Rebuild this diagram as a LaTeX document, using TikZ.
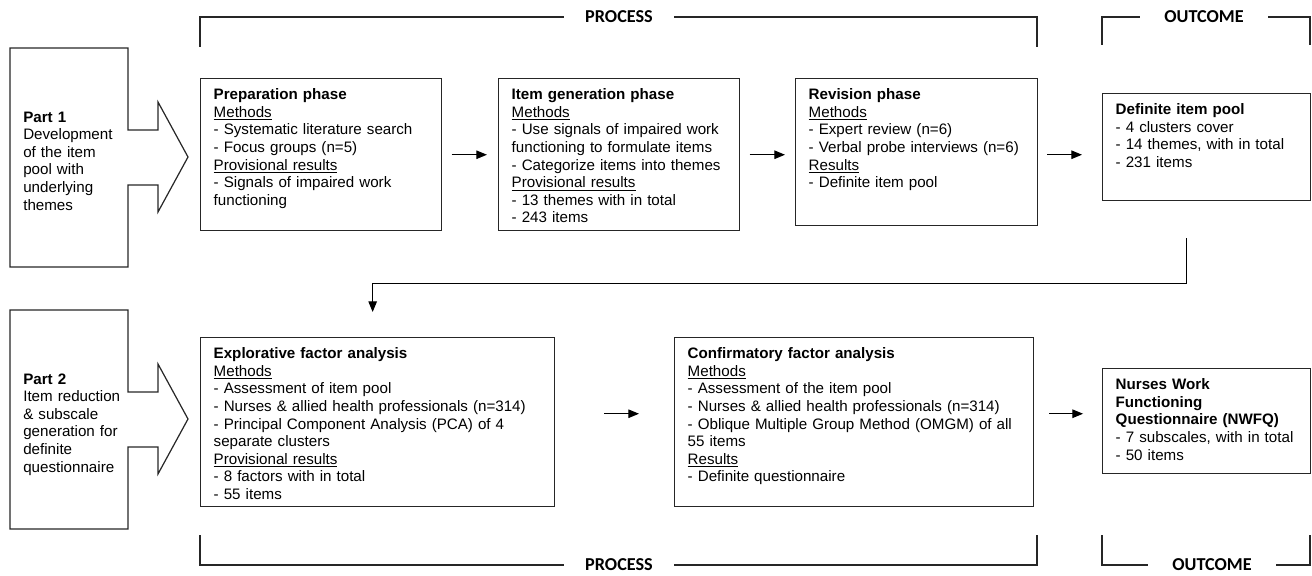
\documentclass[tikz,border=0pt]{standalone}
\usepackage{fontspec}
\setmainfont{Liberation Sans}
\newfontfamily\headfont{Carlito}
\usetikzlibrary{arrows.meta}

\tikzset{
	phasebox/.style={draw=black!85, line width=0.9pt, anchor=north west, align=left,
		inner xsep=8.6pt, inner ysep=0pt, text height=13.9pt},
	parttext/.style={anchor=north west, align=left, inner sep=0pt, text width=66pt, text height=48.8pt},
	partline/.style={draw=black!85, line width=0.8pt},
	conn/.style={-{Triangle[length=7pt,width=5.6pt]}, line width=0.7pt},
	bracketline/.style={line width=0.7pt, black!85},
	bracketlabel/.style={font=\headfont\bfseries\fontsize{12}{14}\selectfont, inner ysep=0pt},
}

\begin{document}
\begin{tikzpicture}[x=0.66pt, y=-0.66pt, font=\fontsize{10}{11.6}\selectfont]
		\useasboundingbox (0,0) rectangle (1312,576);

		% Brackets
		\node[bracketlabel, inner xsep=14pt] (procTop) at (619,17) {PROCESS};
		\node[bracketlabel, inner xsep=16pt] (outTop) at (1204,17) {OUTCOME};
		\node[bracketlabel, inner xsep=14pt] (procBot) at (619,565) {PROCESS};
		\node[bracketlabel, inner xsep=16pt] (outBot) at (1212,565) {OUTCOME};
		\draw[bracketline] (200,47) |- (procTop.west);
		\draw[bracketline] (procTop.east) -| (1037,47);
		\draw[bracketline] (1102,45) |- (outTop.west);
		\draw[bracketline] (outTop.east) -| (1310,45);
		\draw[bracketline] (200,535) |- (procBot.west);
		\draw[bracketline] (procBot.east) -| (1037,535);
		\draw[bracketline] (1102,535) |- (outBot.west);
		\draw[bracketline] (outBot.east) -| (1310,535);

		% First part
		\begin{scope}[shift={(0,0)}]
			\draw[partline] (10,48) -- (128,48) -- (128,130) -- (158,130) -- (158,102) -- (188,157)
				-- (158,212) -- (158,185) -- (128,185) -- (128,267) -- (10,267) -- cycle;
			\node[parttext] (part1) at (23,48) {\textbf{Part 1}\\Development\\of the item\\pool with\\underlying\\themes};
		\end{scope}

		% Second part
		\begin{scope}[shift={(0,262)}]
			\draw[partline] (10,48) -- (128,48) -- (128,130) -- (158,130) -- (158,102) -- (188,157)
				-- (158,212) -- (158,185) -- (128,185) -- (128,267) -- (10,267) -- cycle;
			\node[parttext] (part2) at (23,48) {\textbf{Part 2}\\Item reduction\\\& subscale\\generation for\\definite\\questionnaire};
		\end{scope}

		% Upper row
		\node[phasebox, text width=141.9pt, text depth=86.5pt] (prep) at (200,78)
			{\textbf{Preparation phase}\\\underline{Methods}\\- Systematic literature search\\- Focus groups (n=5)\\
			\underline{Provisional results}\\- Signals of impaired work\\functioning};
		\node[phasebox, text width=141.9pt, text depth=86.5pt] (itemgen) at (498,78)
			{\textbf{Item generation phase}\\\underline{Methods}\\- Use signals of impaired work\\functioning to formulate items\\
			- Categorize items into themes\\\underline{Provisional results}\\- 13 themes with in total\\- 243 items};
		\node[phasebox, text width=142.5pt, text depth=83.2pt] (revision) at (795,78)
			{\textbf{Revision phase}\\\underline{Methods}\\- Expert review (n=6)\\- Verbal probe interviews (n=6)\\
			\underline{Results}\\- Definite item pool};
		\node[phasebox, text width=120.1pt, text depth=56.8pt] (pool) at (1102,93)
			{\textbf{Definite item pool}\\- 4 clusters cover\\- 14 themes, with in total\\- 231 items};

		\draw[conn, shorten <=6pt, shorten >=7.3pt] (prep.east) -- (prep.east -| itemgen.west);
		\draw[conn, shorten <=6pt, shorten >=6.6pt] (itemgen.east) -- (itemgen.east -| revision.west);
		\draw[conn, shorten <=6pt, shorten >=13.2pt] (itemgen.east -| revision.east) -- (itemgen.east -| pool.west);

		% Lower row
		\node[phasebox, text width=216.4pt, text depth=97.7pt] (efa) at (200,337)
			{\textbf{Explorative factor analysis}\\\underline{Methods}\\- Assessment of item pool\\
			- Nurses \& allied health professionals (n=314)\\- Principal Component Analysis (PCA) of 4\\separate clusters\\
			\underline{Provisional results}\\- 8 factors with in total\\- 55 items};
		\node[phasebox, text width=219.7pt, text depth=97.7pt] (cfa) at (674,337)
			{\textbf{Confirmatory factor analysis}\\\underline{Methods}\\- Assessment of the item pool\\
			- Nurses \& allied health professionals (n=314)\\- Oblique Multiple Group Method (OMGM) of all\\55 items\\
			\underline{Results}\\- Definite questionnaire};
		\node[phasebox, text width=120.1pt, text depth=55.4pt] (nwfq) at (1102,368)
			{\textbf{Nurses Work}\\\textbf{Functioning}\\\textbf{Questionnaire (NWFQ)}\\- 7 subscales, with in total\\- 50 items};

		\draw[conn, shorten <=24.4pt, shorten >=16.5pt] ([xshift=-13.2pt]pool.south) -- ++(0,82) -| ([xshift=-3.3pt]efa.north);
		\draw[conn, shorten <=32.3pt, shorten >=23.1pt] ([yshift=5.6pt]efa.east) -- ([yshift=5.6pt]efa.east -| cfa.west);
		\draw[conn, shorten <=9.9pt, shorten >=12.5pt] ([yshift=5.6pt]cfa.east) -- ([yshift=5.6pt]cfa.east -| nwfq.west);
	\end{tikzpicture}
\end{document}
